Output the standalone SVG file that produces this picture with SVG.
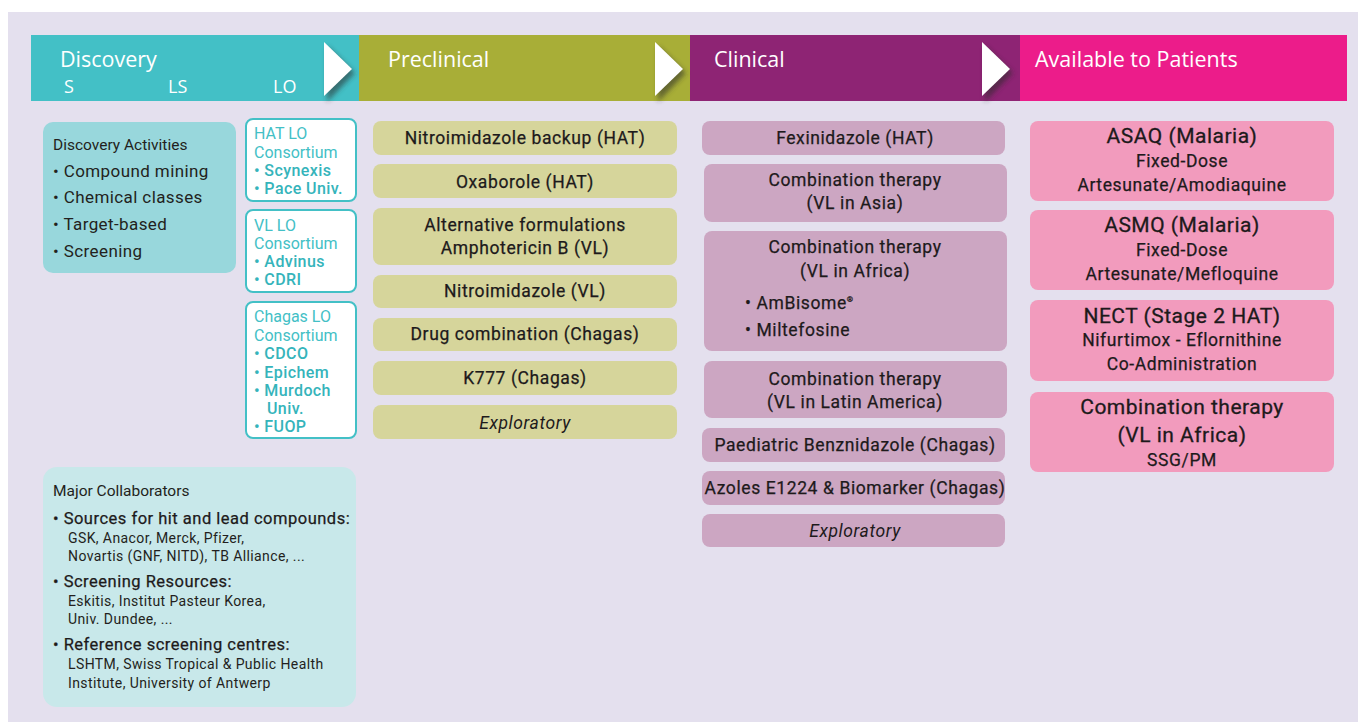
<svg xmlns="http://www.w3.org/2000/svg" width="1358" height="722" viewBox="0 0 1358 722">
<defs>
<filter id="sh" x="-50%" y="-50%" width="200%" height="200%"><feGaussianBlur stdDeviation="2.5"/></filter>
<style>
.hd{font-family:"Open Sans","Liberation Sans",sans-serif;fill:#ffffff;font-size:21.5px}
.sub{font-family:"Open Sans","Liberation Sans",sans-serif;fill:#ffffff;font-size:18px}
.t{font-family:Roboto,"Liberation Sans",sans-serif;fill:#1d1a1b;font-size:17.5px;letter-spacing:0.6px;text-anchor:middle;stroke:#1d1a1b;stroke-width:0.25px}
.tl{font-family:Roboto,"Liberation Sans",sans-serif;fill:#231F20;font-size:17px;letter-spacing:0.4px}
.tb{font-family:Roboto,"Liberation Sans",sans-serif;fill:#1d1a1b;font-size:21px;letter-spacing:0.5px;text-anchor:middle;stroke:#1d1a1b;stroke-width:0.3px}
.it{font-style:italic;stroke-width:0}
.ti{font-family:Roboto,"Liberation Sans",sans-serif;fill:#231F20;font-size:15.5px}
.sm{font-family:Roboto,"Liberation Sans",sans-serif;fill:#231F20;font-size:14px;letter-spacing:0.4px}
.mc{font-family:Roboto,"Liberation Sans",sans-serif;fill:#1d1a1b;font-size:16.5px;letter-spacing:0.5px;stroke:#1d1a1b;stroke-width:0.25px}
.c1{font-family:Roboto,"Liberation Sans",sans-serif;fill:#43C0C6;font-size:16px}
.c2{font-family:Roboto,"Liberation Sans",sans-serif;fill:#35B4BB;font-size:16px;font-weight:500;letter-spacing:0.4px}
.pre{fill:#D6D59B}
.cli{fill:#CCA6C2}
.av{fill:#F29BBD}
.lo{fill:#ffffff;stroke:#43C0C6;stroke-width:2}
.arr{fill:#ffffff}
.as{fill:#2a2a2a;opacity:0.55;filter:url(#sh)}
</style>
</defs>
<rect x="0" y="0" width="1358" height="722" fill="#ffffff"/>
<rect x="8" y="12" width="1350" height="710" fill="#E4E0EE"/>

<g id="header">
<rect x="31" y="35" width="328" height="66" fill="#43C0C6"/>
<rect x="359" y="35" width="331" height="66" fill="#A8AE37"/>
<rect x="690" y="35" width="330" height="66" fill="#8E2474"/>
<rect x="1020" y="35" width="327" height="66" fill="#EC1C8A"/>
<polygon class="as" points="327,46 355,73 327,102"/>
<polygon class="arr" points="324,42 352,69 324,96"/>
<polygon class="as" points="658,46 686,73 658,102"/>
<polygon class="arr" points="655,42 683,69 655,96"/>
<polygon class="as" points="985,46 1013,73 985,102"/>
<polygon class="arr" points="982,42 1010,69 982,96"/>
<text class="hd" x="60" y="67">Discovery</text>
<text class="sub" x="64" y="93">S</text>
<text class="sub" x="168" y="93">LS</text>
<text class="sub" x="273" y="93">LO</text>
<text class="hd" x="388" y="67">Preclinical</text>
<text class="hd" x="714" y="67">Clinical</text>
<text class="hd" x="1035" y="67">Available to Patients</text>
</g>

<g id="discovery-activities">
<rect x="43" y="122" width="193" height="151" rx="10" fill="#98D7DC"/>
<text class="ti" x="53" y="150">Discovery Activities</text>
<text class="tl" x="53" y="177">• Compound mining</text>
<text class="tl" x="53" y="203">• Chemical classes</text>
<text class="tl" x="53" y="230">• Target-based</text>
<text class="tl" x="53" y="257">• Screening</text>
</g>

<g id="hat-lo">
<rect class="lo" x="246" y="119" width="110" height="82" rx="7"/>
<text class="c1" x="254" y="139">HAT LO</text>
<text class="c1" x="254" y="158">Consortium</text>
<text class="c2" x="254" y="176">• Scynexis</text>
<text class="c2" x="254" y="194">• Pace Univ.</text>
</g>

<g id="vl-lo">
<rect class="lo" x="246" y="210" width="110" height="82" rx="7"/>
<text class="c1" x="254" y="231">VL LO</text>
<text class="c1" x="254" y="249">Consortium</text>
<text class="c2" x="254" y="267">• Advinus</text>
<text class="c2" x="254" y="285">• CDRI</text>
</g>

<g id="chagas-lo">
<rect class="lo" x="246" y="302" width="110" height="136" rx="7"/>
<text class="c1" x="254" y="322">Chagas LO</text>
<text class="c1" x="254" y="341">Consortium</text>
<text class="c2" x="254" y="359">• CDCO</text>
<text class="c2" x="254" y="378">• Epichem</text>
<text class="c2" x="254" y="396">• Murdoch</text>
<text class="c2" x="267" y="414">Univ.</text>
<text class="c2" x="254" y="432">• FUOP</text>
</g>

<g id="major-collaborators">
<rect x="43" y="467" width="313" height="240" rx="14" fill="#C8E8EA"/>
<text class="ti" x="53" y="496">Major Collaborators</text>
<text class="mc" x="53" y="524">• Sources for hit and lead compounds:</text>
<text class="sm" x="68" y="543">GSK, Anacor, Merck, Pfizer,</text>
<text class="sm" x="68" y="561">Novartis (GNF, NITD), TB Alliance, ...</text>
<text class="mc" x="53" y="587">• Screening Resources:</text>
<text class="sm" x="68" y="606">Eskitis, Institut Pasteur Korea,</text>
<text class="sm" x="68" y="624">Univ. Dundee, ...</text>
<text class="mc" x="53" y="650">• Reference screening centres:</text>
<text class="sm" x="68" y="669">LSHTM, Swiss Tropical &amp; Public Health</text>
<text class="sm" x="68" y="688">Institute, University of Antwerp</text>
</g>

<g id="pre-1"><rect class="pre" x="373" y="121" width="304" height="34" rx="8"/><text class="t" x="525" y="144">Nitroimidazole backup (HAT)</text></g>
<g id="pre-2"><rect class="pre" x="373" y="164" width="304" height="34" rx="8"/><text class="t" x="525" y="188">Oxaborole (HAT)</text></g>
<g id="pre-3"><rect class="pre" x="373" y="208" width="304" height="57" rx="8"/><text class="t" x="525" y="231">Alternative formulations</text><text class="t" x="525" y="254">Amphotericin B (VL)</text></g>
<g id="pre-4"><rect class="pre" x="373" y="275" width="304" height="33" rx="8"/><text class="t" x="525" y="297">Nitroimidazole (VL)</text></g>
<g id="pre-5"><rect class="pre" x="373" y="318" width="304" height="33" rx="8"/><text class="t" x="525" y="340">Drug combination (Chagas)</text></g>
<g id="pre-6"><rect class="pre" x="373" y="361" width="304" height="34" rx="8"/><text class="t" x="525" y="384">K777 (Chagas)</text></g>
<g id="pre-7"><rect class="pre" x="373" y="405" width="304" height="34" rx="8"/><text class="t it" x="525" y="429">Exploratory</text></g>

<g id="cli-1"><rect class="cli" x="702" y="121" width="303" height="34" rx="8"/><text class="t" x="855" y="144">Fexinidazole (HAT)</text></g>
<g id="cli-2"><rect class="cli" x="704" y="164" width="303" height="58" rx="8"/><text class="t" x="855" y="186">Combination therapy</text><text class="t" x="855" y="209">(VL in Asia)</text></g>
<g id="cli-3"><rect class="cli" x="704" y="231" width="303" height="120" rx="8"/><text class="t" x="855" y="253">Combination therapy</text><text class="t" x="855" y="277">(VL in Africa)</text><text class="t" x="745" y="309" style="text-anchor:start">• AmBisome<tspan font-size="8" dy="-7">®</tspan></text><text class="t" x="745" y="336" style="text-anchor:start">• Miltefosine</text></g>
<g id="cli-4"><rect class="cli" x="704" y="361" width="303" height="57" rx="8"/><text class="t" x="855" y="385">Combination therapy</text><text class="t" x="855" y="408">(VL in Latin America)</text></g>
<g id="cli-5"><rect class="cli" x="702" y="428" width="303" height="34" rx="8"/><text class="t" x="855" y="451">Paediatric Benznidazole (Chagas)</text></g>
<g id="cli-6"><rect class="cli" x="702" y="471" width="303" height="34" rx="8"/><text class="t" x="855" y="494">Azoles E1224 &amp; Biomarker (Chagas)</text></g>
<g id="cli-7"><rect class="cli" x="702" y="514" width="303" height="33" rx="8"/><text class="t it" x="855" y="537">Exploratory</text></g>

<g id="av-1"><rect class="av" x="1030" y="121" width="304" height="80" rx="8"/><text class="tb" x="1182" y="143">ASAQ (Malaria)</text><text class="t" x="1182" y="167">Fixed-Dose</text><text class="t" x="1182" y="191">Artesunate/Amodiaquine</text></g>
<g id="av-2"><rect class="av" x="1030" y="210" width="304" height="80" rx="8"/><text class="tb" x="1182" y="232">ASMQ (Malaria)</text><text class="t" x="1182" y="256">Fixed-Dose</text><text class="t" x="1182" y="280">Artesunate/Mefloquine</text></g>
<g id="av-3"><rect class="av" x="1030" y="300" width="304" height="81" rx="8"/><text class="tb" x="1182" y="323">NECT (Stage 2 HAT)</text><text class="t" x="1182" y="346">Nifurtimox - Eflornithine</text><text class="t" x="1182" y="370">Co-Administration</text></g>
<g id="av-4"><rect class="av" x="1030" y="392" width="304" height="80" rx="8"/><text class="tb" x="1182" y="414">Combination therapy</text><text class="tb" x="1182" y="442">(VL in Africa)</text><text class="t" x="1182" y="466">SSG/PM</text></g>

<g id="connectors"></g>
</svg>
